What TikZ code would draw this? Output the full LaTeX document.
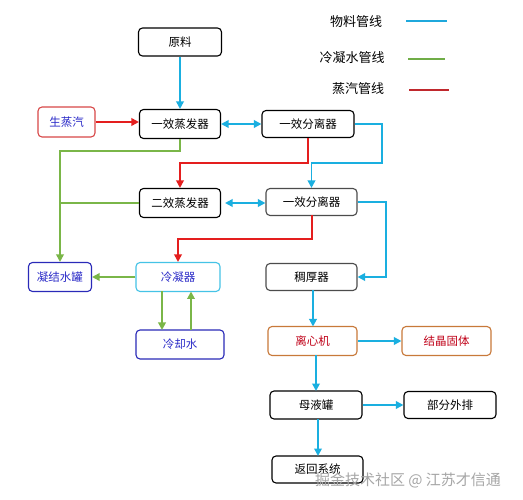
\documentclass[tikz,border=0pt]{standalone}
\usepackage{fontspec}
\setmainfont{Noto Sans CJK SC}
\usetikzlibrary{arrows.meta}
\definecolor{pipeblue}{HTML}{1AAFE0}
\definecolor{pipegreen}{HTML}{7AB648}
\definecolor{pipered}{HTML}{E41E1E}
\definecolor{legred}{HTML}{C0282D}
\definecolor{legblue}{HTML}{1FA8DC}
\definecolor{leggreen}{HTML}{70AD47}
\definecolor{txtblue}{HTML}{2B2BC8}
\definecolor{bdblue}{HTML}{2A2AB8}
\definecolor{bdcyan}{HTML}{45C3E6}
\definecolor{bdorange}{HTML}{C8793A}
\definecolor{txtred}{HTML}{C00018}
\definecolor{bdred}{HTML}{D84848}
\tikzset{
  box/.style={draw=black, rounded corners=4pt, line width=1.1pt, inner sep=0pt,
    font=\fontsize{11.5}{12}\selectfont, fill=white},
  graybox/.style={box, draw=black!70},
  bluebox/.style={box, draw=bdblue, text=txtblue},
  cyanbox/.style={box, draw=bdcyan, text=txtblue},
  orangebox/.style={box, draw=bdorange, text=txtred},
  redbox/.style={box, draw=bdred, text=txtblue},
  tip/.style={-{Triangle[length=7.5pt,width=7.5pt]}},
  both/.style={{Triangle[length=7.5pt,width=7.5pt]}-{Triangle[length=7.5pt,width=7.5pt]}},
  bl/.style={draw=pipeblue, line width=1.8pt},
  gl/.style={draw=pipegreen, line width=1.8pt},
  rl/.style={draw=pipered, line width=1.8pt},
  legtext/.style={font=\fontsize{13}{14}\selectfont, inner sep=0pt},
}
\begin{document}
\begin{tikzpicture}[x=1pt,y=-1pt]
\useasboundingbox (0,0) rectangle (523,500);
\fill[white] (0,0) rectangle (523,500);

% legend
\node[legtext] (l1) at (356,22) {物料管线};
\node[legtext] (l2) at (352,58) {冷凝水管线};
\node[legtext] (l3) at (358,89) {蒸汽管线};
\coordinate (l1a) at (406,21); \coordinate (l1b) at (447,21);
\coordinate (l2a) at (408,59); \coordinate (l2b) at (445,59);
\coordinate (l3a) at (409,90); \coordinate (l3b) at (449,90);
\draw[draw=legblue, line width=1.8pt] (l1a) -- (l1b);
\draw[draw=leggreen, line width=1.8pt] (l2a) -- (l2b);
\draw[draw=legred, line width=1.8pt] (l3a) -- (l3b);

% nodes
\node[box, minimum width=83pt, minimum height=28pt] (yl) at (180,42) {原料};
\node[redbox, minimum width=57pt, minimum height=30pt] (szq) at (66.5,122) {生蒸汽};
\node[box, minimum width=81pt, minimum height=29pt] (e1) at (180,124) {一效蒸发器};
\node[box, minimum width=92pt, minimum height=27pt] (s1) at (308,124) {一效分离器};
\node[box, minimum width=81pt, minimum height=29pt] (e2) at (180,203) {二效蒸发器};
\node[graybox, minimum width=91pt, minimum height=27pt] (s2) at (311.5,202) {一效分离器};
\node[bluebox, minimum width=63pt, minimum height=29pt] (nj) at (60,277) {凝结水罐};
\node[cyanbox, minimum width=84pt, minimum height=29pt] (ln) at (178,277) {冷凝器};
\node[graybox, minimum width=91pt, minimum height=27pt] (ch) at (311.5,277) {稠厚器};
\node[bluebox, minimum width=88pt, minimum height=29pt] (lq) at (180,344.5) {冷却水};
\node[orangebox, minimum width=89pt, minimum height=29pt] (lx) at (312.5,341) {离心机};
\node[orangebox, minimum width=89pt, minimum height=29pt] (jj) at (446.5,341) {结晶固体};
\node[box, minimum width=92pt, minimum height=28pt] (my) at (316,405) {母液罐};
\node[box, minimum width=92pt, minimum height=27pt] (bf) at (450,405) {部分外排};
\node[box, minimum width=91pt, minimum height=27pt] (fh) at (317.5,469.5) {返回系统};

% blue material lines
\draw[bl, tip] (yl.south) -- (e1.north);
\draw[bl, both] (e1.east) -- (s1.west |- e1.east);
\draw[bl, tip] (s1.east) -- (382,124) -- (382,163) -- (311.5,163) -- (s2.north);
\draw[bl, both, shorten <=4pt] (e2.east) -- (s2.west |- e2.east);
\draw[bl, tip] (s2.east) -- (386,202) -- (386,277) -- (ch.east);
\draw[bl, tip] (313,290.5) -- (313,326.5);
\draw[bl, tip] (lx.east) -- (jj.west);
\draw[bl, tip] (316,355.5) -- (316,391);
\draw[bl, tip] (my.east) -- (bf.west |- my.east);
\draw[bl, tip] (318,419) -- (318,456);

% red steam lines
\draw[rl, tip] (szq.east) -- (e1.west |- szq.east);
\draw[rl, tip] (s1.south) -- (308,163) -- (180,163) -- (e2.north);
\draw[rl, tip] (312,215.5) -- (312,239) -- (178,239) -- (ln.north);

% green condensate lines
\draw[gl, tip] (e1.south) -- (180,151) -- (60,151) -- (nj.north);
\draw[gl] (e2.west) -- (60,203);
\draw[gl, tip] (ln.west) -- (nj.east);
\draw[gl, tip] (162,291.5) -- (162,330);
\draw[gl, tip] (191,330) -- (191,291.5);

% watermark
\node[font=\fontsize{15}{16}\selectfont, text=gray!70, inner sep=0pt] (wm) at (408,480) {掘金技术社区 @ 江苏才信通};
\end{tikzpicture}
\end{document}
